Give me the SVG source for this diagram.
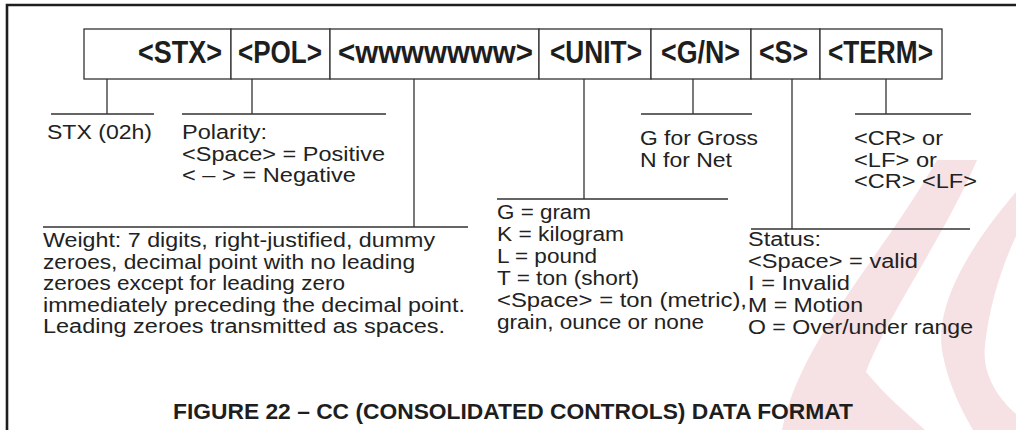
<svg xmlns="http://www.w3.org/2000/svg" width="1016" height="430" viewBox="0 0 1016 430">
<style>
.frame{fill:none;stroke:#1e1e1e;stroke-width:2.6}
.cell{fill:#fff;stroke:#333;stroke-width:1.3}
.lbl{font-family:"Liberation Sans",Arial,sans-serif;font-weight:bold;font-size:30.5px;fill:#1e1e1e}
.t{font-family:"Liberation Sans",Arial,sans-serif;font-size:20px;fill:#222}
.ttl{font-family:"Liberation Sans",Arial,sans-serif;font-weight:bold;font-size:22px;fill:#1e1e1e}
.c{fill:none;stroke:#333;stroke-width:1.3}
.wm{fill:#f6e1e4}
</style>
<g id="watermark">
<path class="wm" d="M937,160 L977,160 C945,235 885,320 866,372 C885,395 905,412 925,430 L782,430 C800,340 880,260 937,160 Z"/>
<path class="wm" d="M1016,192 C975,240 935,300 942,350 C948,385 962,410 973,430 L1016,430 L1016,414 C995,395 982,372 985,345 C990,300 1004,262 1016,236 Z"/>
</g>
<path class="frame" d="M7,430 V5 H1016"/>
<g id="record">
<g id="stx"><rect class="cell" x="84" y="29" width="147" height="50"/><text class="lbl" x="138" y="63" textLength="84" lengthAdjust="spacingAndGlyphs">&lt;STX&gt;</text></g>
<g id="pol"><rect class="cell" x="231" y="29" width="99" height="50"/><text class="lbl" x="238" y="63" textLength="84" lengthAdjust="spacingAndGlyphs">&lt;POL&gt;</text></g>
<g id="weight"><rect class="cell" x="330" y="29" width="209" height="50"/><text class="lbl" x="338" y="63" textLength="195" lengthAdjust="spacingAndGlyphs">&lt;wwwwwww&gt;</text></g>
<g id="unit"><rect class="cell" x="539" y="29" width="112" height="50"/><text class="lbl" x="550" y="63" textLength="92" lengthAdjust="spacingAndGlyphs">&lt;UNIT&gt;</text></g>
<g id="gn"><rect class="cell" x="651" y="29" width="100" height="50"/><text class="lbl" x="661" y="63" textLength="79" lengthAdjust="spacingAndGlyphs">&lt;G/N&gt;</text></g>
<g id="s"><rect class="cell" x="751" y="29" width="69" height="50"/><text class="lbl" x="759" y="63" textLength="49" lengthAdjust="spacingAndGlyphs">&lt;S&gt;</text></g>
<g id="term"><rect class="cell" x="820" y="29" width="122" height="50"/><text class="lbl" x="828" y="63" textLength="105" lengthAdjust="spacingAndGlyphs">&lt;TERM&gt;</text></g>
</g>
<g id="connectors">
<path class="c" d="M107,79 V114 M51,114 H154"/>
<path class="c" d="M252,79 V114 M182,114 H386"/>
<path class="c" d="M414,79 V227 M43,227 H468"/>
<path class="c" d="M584,79 V199 M497,199 H728"/>
<path class="c" d="M693,79 V114 M641,114 H752"/>
<path class="c" d="M792,79 V229 M751,229 H970"/>
<path class="c" d="M886,79 V114 M855,114 H971"/>
</g>
<g id="stx-note"><text class="t" x="47" y="139" textLength="105" lengthAdjust="spacingAndGlyphs">STX (02h)</text></g>
<g id="pol-note">
<text class="t" x="182" y="139" textLength="85" lengthAdjust="spacingAndGlyphs">Polarity:</text>
<text class="t" x="182" y="160.5" textLength="203" lengthAdjust="spacingAndGlyphs">&lt;Space&gt; = Positive</text>
<text class="t" x="182" y="182" textLength="174" lengthAdjust="spacingAndGlyphs">&lt; – &gt; = Negative</text>
</g>
<g id="gn-note">
<text class="t" x="640" y="145" textLength="118" lengthAdjust="spacingAndGlyphs">G for Gross</text>
<text class="t" x="640" y="166.5" textLength="92" lengthAdjust="spacingAndGlyphs">N for Net</text>
</g>
<g id="term-note">
<text class="t" x="854" y="145" textLength="89" lengthAdjust="spacingAndGlyphs">&lt;CR&gt; or</text>
<text class="t" x="854" y="166.5" textLength="83" lengthAdjust="spacingAndGlyphs">&lt;LF&gt; or</text>
<text class="t" x="854" y="188" textLength="123" lengthAdjust="spacingAndGlyphs">&lt;CR&gt; &lt;LF&gt;</text>
</g>
<g id="weight-note">
<text class="t" x="43" y="247" textLength="392" lengthAdjust="spacingAndGlyphs">Weight: 7 digits, right-justified, dummy</text>
<text class="t" x="43" y="268.5" textLength="372" lengthAdjust="spacingAndGlyphs">zeroes, decimal point with no leading</text>
<text class="t" x="43" y="290" textLength="302" lengthAdjust="spacingAndGlyphs">zeroes except for leading zero</text>
<text class="t" x="43" y="311.5" textLength="422" lengthAdjust="spacingAndGlyphs">immediately preceding the decimal point.</text>
<text class="t" x="43" y="333" textLength="402" lengthAdjust="spacingAndGlyphs">Leading zeroes transmitted as spaces.</text>
</g>
<g id="unit-note">
<text class="t" x="497" y="219" textLength="94" lengthAdjust="spacingAndGlyphs">G = gram</text>
<text class="t" x="497" y="241" textLength="127" lengthAdjust="spacingAndGlyphs">K = kilogram</text>
<text class="t" x="497" y="263" textLength="100" lengthAdjust="spacingAndGlyphs">L = pound</text>
<text class="t" x="497" y="285" textLength="142" lengthAdjust="spacingAndGlyphs">T = ton (short)</text>
<text class="t" x="497" y="307" textLength="250" lengthAdjust="spacingAndGlyphs">&lt;Space&gt; = ton (metric),</text>
<text class="t" x="497" y="329" textLength="207" lengthAdjust="spacingAndGlyphs">grain, ounce or none</text>
</g>
<g id="status-note">
<text class="t" x="748" y="246" textLength="73" lengthAdjust="spacingAndGlyphs">Status:</text>
<text class="t" x="748" y="268" textLength="170" lengthAdjust="spacingAndGlyphs">&lt;Space&gt; = valid</text>
<text class="t" x="748" y="290" textLength="102" lengthAdjust="spacingAndGlyphs">I = Invalid</text>
<text class="t" x="748" y="312" textLength="115" lengthAdjust="spacingAndGlyphs">M = Motion</text>
<text class="t" x="748" y="334" textLength="225" lengthAdjust="spacingAndGlyphs">O = Over/under range</text>
</g>
<text class="ttl" x="173" y="419" textLength="680" lengthAdjust="spacingAndGlyphs">FIGURE 22 – CC (CONSOLIDATED CONTROLS) DATA FORMAT</text>
</svg>
